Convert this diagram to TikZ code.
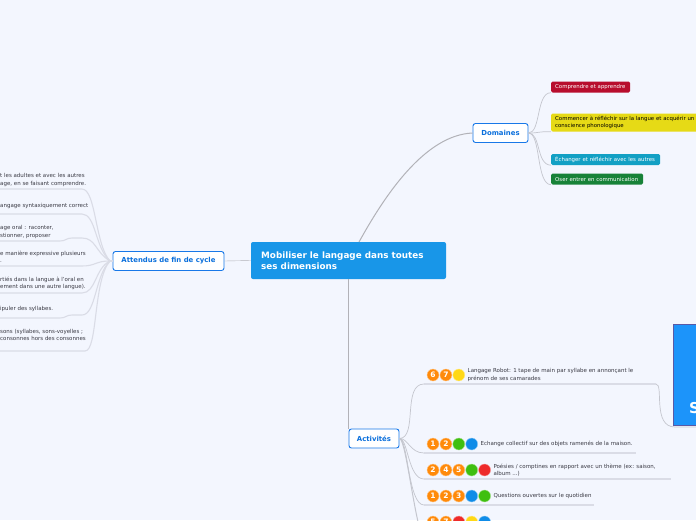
\documentclass[tikz,border=0pt]{standalone}
\usepackage{fontspec}
\setmainfont{DejaVu Sans}
\usepackage{xcolor}
\usetikzlibrary{positioning}
\definecolor{pagebg}{HTML}{F3F6FE}
\definecolor{rootblue}{HTML}{1896E8}
\definecolor{textblue}{HTML}{0A6FDC}
\definecolor{edgeblue}{HTML}{1878E8}
\definecolor{blocblue}{HTML}{1C94FA}
\definecolor{linegray}{HTML}{C4C6CE}
\definecolor{maingray}{HTML}{B2B2B8}
\definecolor{underline}{HTML}{DADCE6}
\definecolor{txtgray}{HTML}{3A3A44}
\definecolor{redbox}{HTML}{B80D2D}
\definecolor{yellowbox}{HTML}{E6DA16}
\definecolor{tealbox}{HTML}{12A0C4}
\definecolor{greenbox}{HTML}{178238}
\definecolor{dotorange}{HTML}{FF8A0A}
\definecolor{dotgreen}{HTML}{3FBF10}
\definecolor{dotblue}{HTML}{0F8CE8}
\definecolor{dotred}{HTML}{EE2A2A}
\definecolor{dotyellow}{HTML}{FFD816}
\tikzset{
  topic/.style={draw=edgeblue, line width=0.9pt, fill=white, rounded corners=2.5pt, text=textblue, font=\fontsize{6.9}{8}\selectfont\bfseries, inner sep=0pt, minimum height=19pt},
  tag/.style={rounded corners=1.5pt, inner ysep=0pt, inner xsep=4pt, anchor=west, align=left, minimum height=11pt, text=white, font=\fontsize{5.4}{7}\selectfont},
  leaf/.style={anchor=west, align=left, inner sep=0pt, text=txtgray, font=\fontsize{5.5}{7.2}\selectfont},
  num/.style={circle, fill=dotorange, draw=dotorange!45!white, line width=0.4pt, inner sep=0pt, minimum size=12pt, text=white, font=\fontsize{7.5}{8}\selectfont\bfseries},
  dot/.style={circle, fill=#1, draw=#1!45!white, line width=0.4pt, inner sep=0pt, minimum size=12pt},
  link/.style={draw=linegray, line width=0.7pt},
  under/.style={draw=underline, line width=1.1pt}
}
\begin{document}
\begin{tikzpicture}[x=1pt, y=-1pt]
\useasboundingbox (0,0) rectangle (696,520);
\clip (0,0) rectangle (696,520);
\fill[pagebg] (0,0) rectangle (696,520);

% main topics
\node[fill=rootblue, rounded corners=2pt, minimum width=195pt, minimum height=37pt, inner sep=0pt] (root) at (348.5,260.5) {};
\node[anchor=west, align=left, inner sep=0pt, text=white, font=\fontsize{8.8}{10.8}\selectfont\bfseries] (roottext) at (261,260.5) {Mobiliser le langage dans toutes\\ses dimensions};
\node[topic, minimum width=111pt] (attendus) at (168.5,261) {Attendus de fin de cycle};
\node[topic, minimum width=55pt] (domaines) at (500.5,133) {Domaines};
\node[topic, minimum width=50pt] (activites) at (374,438.5) {Activités};

% domaines
\node[tag, fill=redbox, text width=71pt] (comprendre) at (551,87) {\mbox{Comprendre et apprendre}};
\node[tag, fill=yellowbox, text width=150pt, minimum height=18pt, text=black] (commencer) at (551,122.5) {\mbox{Commencer à réfléchir sur la langue et acquérir un}\\conscience phonologique};
\node[tag, fill=tealbox, text width=101pt] (echanger) at (551,159.5) {\mbox{Échanger et réfléchir avec les autres}};
\node[tag, fill=greenbox, text width=84pt] (oser) at (551,179) {\mbox{Oser entrer en communication}};

% attendus
\node[leaf] (a1) at (0,180) {t les adultes et avec les autres\\age, en se faisant comprendre.};
\node[leaf] (a2) at (0,206) {angage syntaxiquement correct};
\node[leaf] (a3) at (0,232) {age oral : raconter,\\stionner, proposer};
\node[leaf] (a4) at (0,257) {e manière expressive plusieurs\\.};
\node[leaf] (a5) at (0,283.5) {rtiés dans la langue à l'oral en\\ement dans une autre langue).};
\node[leaf] (a6) at (0,309) {ipuler des syllabes.};
\node[leaf] (a7) at (0,335) {sons (syllabes, sons-voyelles ;\\consonnes hors des consonnes};
\coordinate (a1end) at (0,189);
\coordinate (a2end) at (0,214);
\coordinate (a3end) at (0,241);
\coordinate (a4end) at (0,266);
\coordinate (a5end) at (0,293);
\coordinate (a6end) at (0,318);
\coordinate (a7end) at (0,351);
\coordinate (hub) at (110,261);

% grand bloc
\node[fill=blocblue, draw=gray!70!blue, minimum width=60pt, minimum height=101pt, inner sep=0pt, anchor=north west] (bloc) at (673,324) {};
\node[anchor=west, inner sep=0pt, text=white, font=\fontsize{15}{18}\selectfont\bfseries] (bloctext) at (689,408) {S};

% activites
\node[num] (r1a) at (433,375) {6};
\node[num, right=0.5pt of r1a] (r1b) {7};
\node[dot=dotyellow, right=0.5pt of r1b] (r1c) {};
\node[leaf, right=2.5pt of r1c] (robot) {Langage Robot: 1 tape de main par syllabe en annonçant le\\prénom de ses camarades};
\node[num] (r2a) at (433,444) {1};
\node[num, right=0.5pt of r2a] (r2b) {2};
\node[dot=dotgreen, right=0.5pt of r2b] (r2c) {};
\node[dot=dotblue, right=0.5pt of r2c] (r2d) {};
\node[leaf, right=2.5pt of r2d] (objets) {Echange collectif sur des objets ramenés de la maison.};
\node[num] (r3a) at (433,470) {2};
\node[num, right=0.5pt of r3a] (r3b) {4};
\node[num, right=0.5pt of r3b] (r3c) {5};
\node[dot=dotgreen, right=0.5pt of r3c] (r3d) {};
\node[dot=dotred, right=0.5pt of r3d] (r3e) {};
\node[leaf, right=2.5pt of r3e] (poesies) {Poésies / comptines en rapport avec un thème (ex: saison,\\album ...)};
\node[num] (r4a) at (433,496) {1};
\node[num, right=0.5pt of r4a] (r4b) {2};
\node[num, right=0.5pt of r4b] (r4c) {3};
\node[dot=dotblue, right=0.5pt of r4c] (r4d) {};
\node[dot=dotgreen, right=0.5pt of r4d] (r4e) {};
\node[leaf, right=2.5pt of r4e] (questions) {Questions ouvertes sur le quotidien};
\node[num] (r5a) at (433,522) {5};
\node[num, right=0.5pt of r5a] (r5b) {7};
\node[dot=dotred, right=0.5pt of r5b] (r5c) {};
\node[dot=dotyellow, right=0.5pt of r5c] (r5d) {};
\node[dot=dotblue, right=0.5pt of r5d] (r5e) {};
\coordinate (u1a) at (424,384);
\coordinate (u1b) at (656,384);
\coordinate (u2a) at (424,453);
\coordinate (u2b) at (636,453);
\coordinate (u3a) at (424,479);
\coordinate (u3b) at (671,479);
\coordinate (u4a) at (424,505);
\coordinate (u4b) at (594,505);
\coordinate (u5) at (420,530);
\coordinate (blocin) at (696,427);

% traits
\draw[maingray] (root.west) -- (attendus.east);
\draw[maingray, line width=1pt] (359,242) .. controls (385,195) and (425,135) .. (domaines.west);
\draw[maingray, line width=1.5pt] (348.5,279) -- (348.5,429);
\foreach \n/\y in {comprendre/92.5, commencer/131.5, echanger/165, oser/184.5}
  \draw[link] (domaines.east) .. controls (541,133) and (536,\y) .. (\n.south west);
\draw[under] (a1end) -- (82,189) .. controls (96,189) and (95,245) .. (hub) -- (attendus.west);
\draw[under] (a2end) -- (82,214) .. controls (96,214) and (95,248) .. (hub) -- (attendus.west);
\draw[under] (a3end) -- (60,241) .. controls (66,241) and (66,238) .. (72,238) -- (82,238) .. controls (96,238) and (95,252) .. (hub) -- (attendus.west);
\draw[under] (a4end) -- (82,266) .. controls (96,266) and (95,261) .. (hub) -- (attendus.west);
\draw[under] (a5end) -- (82,293) .. controls (96,293) and (95,268) .. (hub) -- (attendus.west);
\draw[under] (a6end) -- (60,318) .. controls (66,318) and (66,315) .. (72,315) -- (82,315) .. controls (96,315) and (95,275) .. (hub) -- (attendus.west);
\draw[under] (a7end) -- (85,351) .. controls (98,351) and (93,280) .. (hub) -- (attendus.west);
\draw[under] (u1a) -- (u1b);
\draw[under] (u2a) -- (u2b);
\draw[under] (u3a) -- (u3b);
\draw[under] (u4a) -- (u4b);
\draw[link] (activites.east) .. controls (418,438) and (402,384) .. (u1a);
\draw[link] (activites.east) .. controls (408,438) and (410,453) .. (u2a);
\draw[link] (activites.east) .. controls (408,438) and (408,479) .. (u3a);
\draw[link] (activites.east) .. controls (408,438) and (408,505) .. (u4a);
\draw[link, line width=1pt] (activites.east) .. controls (405,438) and (412,500) .. (u5);
\draw[link] (u1b) .. controls (664,384) and (652,427) .. (675,427) -- (blocin);
\end{tikzpicture}
\end{document}
